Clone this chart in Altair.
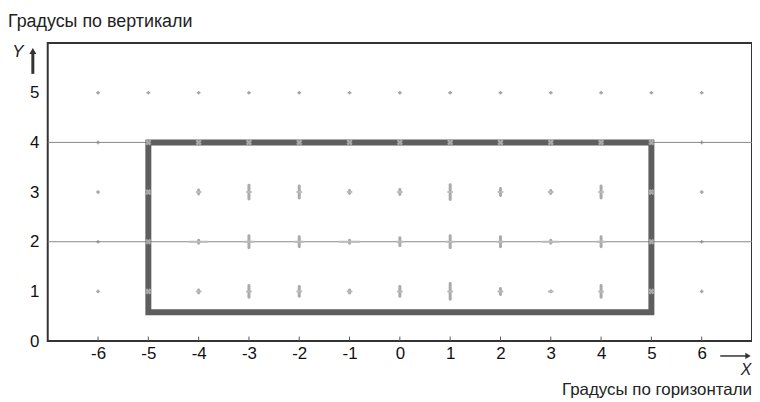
import altair as alt
import pandas as pd

# ---- data ----
x_ticks = [-6, -5, -4, -3, -2, -1, 0, 1, 2, 3, 4, 5, 6]
y_ticks = [0, 1, 2, 3, 4, 5]
grid_x = [-6, -5, -4, -3, -2, -1, 0, 1, 2, 3, 4, 5, 6]
grid_y = [1, 2, 3, 4, 5]
h_lines = [2, 4]
rect_x = [-5, 5]
rect_y = [0.58, 4]

# measured spreads (vertical half-length, degrees) for interior points, rows y=1,2,3
inner_x = [-4, -3, -2, -1, 0, 1, 2, 3, 4]
spread_y1 = [0.03, 0.12, 0.10, 0.03, 0.10, 0.16, 0.06, 0.0, 0.12]
spread_y2 = [0.03, 0.12, 0.10, 0.03, 0.08, 0.12, 0.10, 0.03, 0.10]
spread_y3 = [0.04, 0.14, 0.12, 0.03, 0.05, 0.15, 0.07, 0.03, 0.12]
hspread_y2 = [0.18, 0.1, 0.08, 0.2, 0.06, 0.08, 0.06, 0.15, 0.08]

boundary_pts = [(x, 4) for x in range(-5, 6)] + [(-5, y) for y in (1, 2, 3)] + [(5, y) for y in (1, 2, 3)]

# ---- tables ----
grid_df = pd.DataFrame([{"x": x, "y": y} for x in grid_x for y in grid_y])
rows = []
for xi, s1, s2, s3, h2 in zip(inner_x, spread_y1, spread_y2, spread_y3, hspread_y2):
    rows.append({"x": xi, "y": 1, "s": s1, "h": 0.04})
    rows.append({"x": xi, "y": 2, "s": s2, "h": h2})
    rows.append({"x": xi, "y": 3, "s": s3, "h": 0.04})
inner_df = pd.DataFrame(rows)
inner_df["y1"] = inner_df["y"] - inner_df["s"]
inner_df["y2"] = inner_df["y"] + inner_df["s"]
inner_df["x1"] = inner_df["x"] - inner_df["h"]
inner_df["x2"] = inner_df["x"] + inner_df["h"]
bnd_df = pd.DataFrame([{"x": a, "y": b} for a, b in boundary_pts])
hl_df = pd.DataFrame({"y": h_lines})
rect_df = pd.DataFrame({"x": [rect_x[0]], "x2": [rect_x[1]], "y": [rect_y[0]], "y2": [rect_y[1]]})
xt_df = pd.DataFrame({"x": x_ticks})

xs = alt.Scale(domain=[-7, 7], nice=False, zero=False)
ys = alt.Scale(domain=[0, 6], nice=False, zero=False)
FONT = "Liberation Sans"

base = alt.Chart(grid_df)

xaxis = alt.Axis(values=x_ticks, title=None, ticks=False, domain=False, grid=False,
                 labelExpr="toString(datum.value)",
                 labelFont=FONT, labelFontSize=17, labelColor="#111", labelPadding=5)
yaxis = alt.Axis(values=y_ticks, title=None, ticks=False, domain=False, grid=False,
                 labelExpr="toString(datum.value)",
                 labelFont=FONT, labelFontSize=17, labelColor="#111", labelPadding=9)

grid_pts = base.mark_point(shape="cross", filled=True, size=14, color="#999", opacity=0.9).encode(
    x=alt.X("x:Q", scale=xs, axis=xaxis),
    y=alt.Y("y:Q", scale=ys, axis=yaxis),
)

hlines = alt.Chart(hl_df).mark_rule(color="#888", strokeWidth=1).encode(
    y=alt.Y("y:Q", scale=ys), x=alt.value(0), x2=alt.value(709)
)

xticks = alt.Chart(xt_df).mark_rule(color="#555", strokeWidth=1).encode(
    x=alt.X("x:Q", scale=xs), y=alt.datum(0, scale=ys), y2=alt.datum(0.09)
)

inner_v = alt.Chart(inner_df).mark_rule(color="#aaa", strokeWidth=3, strokeCap="round").encode(
    x=alt.X("x:Q", scale=xs), y=alt.Y("y1:Q", scale=ys), y2="y2:Q"
)
inner_h = alt.Chart(inner_df).mark_rule(color="#bbb", strokeWidth=2, strokeCap="round").encode(
    x=alt.X("x1:Q", scale=xs), x2="x2:Q", y=alt.Y("y:Q", scale=ys)
)

rect = alt.Chart(rect_df).mark_rect(filled=False, stroke="#5e5e5e", strokeWidth=6).encode(
    x=alt.X("x:Q", scale=xs), x2="x2:Q", y=alt.Y("y:Q", scale=ys), y2="y2:Q"
)

bnd = alt.Chart(bnd_df).mark_point(shape="cross", angle=45, filled=True, size=40, color="#c8c8c8").encode(
    x=alt.X("x:Q", scale=xs), y=alt.Y("y:Q", scale=ys)
)

ann = pd.DataFrame({"d": [0]})
t_top = alt.Chart(ann).mark_text(text="Градусы по вертикали", font=FONT, fontSize=18, color="#222",
                                 align="left", baseline="alphabetic").encode(x=alt.value(-40), y=alt.value(-16))
t_bot = alt.Chart(ann).mark_text(text="Градусы по горизонтали", font=FONT, fontSize=17, color="#222",
                                 align="right", baseline="alphabetic").encode(x=alt.value(709), y=alt.value(354))
t_Y = alt.Chart(ann).mark_text(text="Y", font=FONT, fontSize=17, fontStyle="italic", color="#222",
                               align="center", baseline="middle").encode(x=alt.value(-30), y=alt.value(9))
t_X = alt.Chart(ann).mark_text(text="X", font=FONT, fontSize=16, fontStyle="italic", color="#222",
                               align="center", baseline="alphabetic").encode(x=alt.value(703), y=alt.value(334))
arr_y = alt.Chart(ann).mark_rule(color="#333", strokeWidth=3).encode(
    x=alt.value(-15), y=alt.value(31), y2=alt.value(10))
arr_yh = alt.Chart(ann).mark_point(shape="triangle-up", filled=True, size=50, color="#333", opacity=1).encode(
    x=alt.value(-15), y=alt.value(8))
arr_x = alt.Chart(ann).mark_rule(color="#333", strokeWidth=1.5).encode(
    x=alt.value(677), x2=alt.value(703), y=alt.value(315))
arr_xh = alt.Chart(ann).mark_point(shape="triangle-right", filled=True, size=40, color="#333", opacity=1).encode(
    x=alt.value(705), y=alt.value(315))

chart = alt.layer(
    grid_pts, hlines, xticks, inner_v, inner_h, rect, bnd,
    t_top, t_bot, t_Y, t_X, arr_y, arr_yh, arr_x, arr_xh
).properties(
    width=709, height=300,
    background="white",
    autosize=alt.AutoSizeParams(type="none"),
    padding={"left": 40, "top": 34, "right": 0, "bottom": 56},
).configure_view(stroke="#333", strokeWidth=2)

chart.save("out.html", embed_options={"renderer": "svg", "actions": False})
